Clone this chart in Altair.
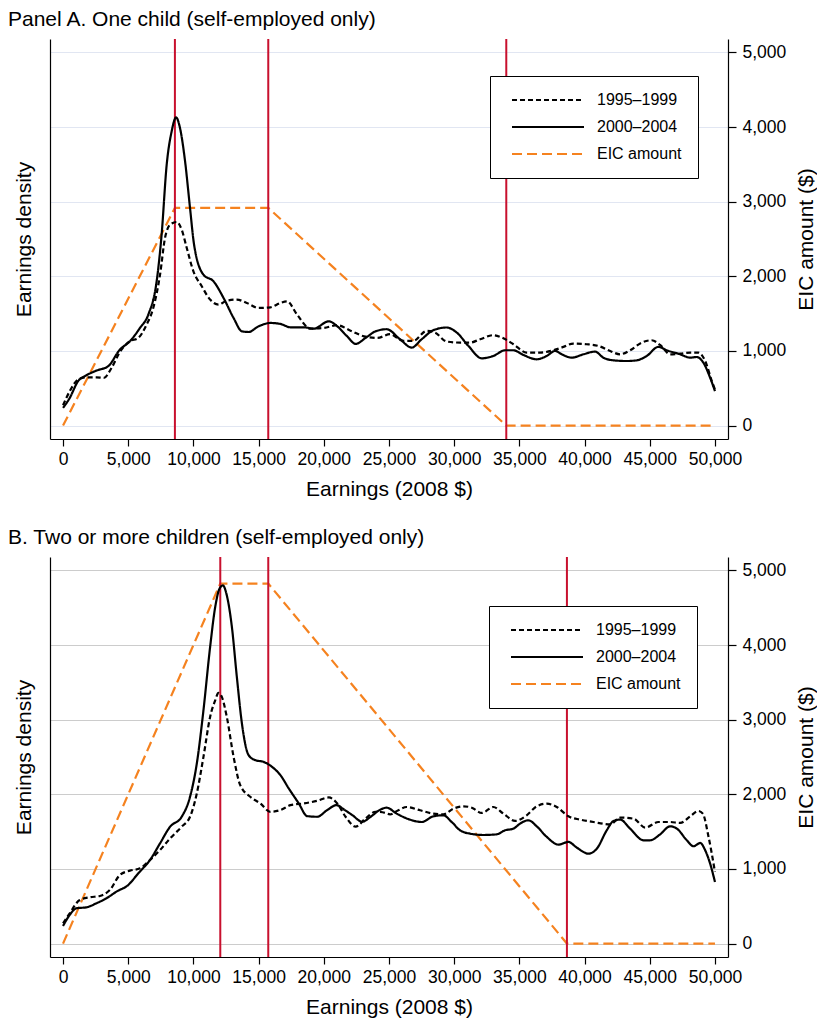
import altair as alt
import pandas as pd

FONT = "Liberation Sans"
SERIES = ["1995–1999", "2000–2004", "EIC amount"]
X_TICKS = [0, 5000, 10000, 15000, 20000, 25000, 30000, 35000, 40000, 45000, 50000]
Y_TICKS = [0, 1000, 2000, 3000, 4000, 5000]

# ---------- Panel A: one child ----------
a_old_x = [0, 513, 1150, 1795, 2564, 3130, 3720, 4360, 5130, 5770, 6410, 6920, 7440, 7820, 8210, 8720,
           9100, 9490, 10000, 10640, 11280, 11920, 12560, 13330, 14100, 15000, 15900, 16670, 17180, 17950,
           18970, 20000, 21030, 22050, 23080, 24100, 25080, 26100, 26870, 27890, 28530, 29420, 30450,
           31220, 31990, 33000, 33770, 34540, 35560, 36580, 37610, 38380, 39140, 40160, 41060, 41960,
           42720, 43490, 44390, 45150, 45790, 46560, 47330, 48100, 48730, 49250, 49760, 50000]
a_old_y = [272, 460, 616, 647, 647, 638, 772, 987, 1130, 1174, 1353, 1576, 2022, 2513, 2692, 2728,
           2625, 2379, 2067, 1866, 1688, 1621, 1674, 1688, 1643, 1576, 1585, 1643, 1665, 1487,
           1299, 1308, 1344, 1272, 1196, 1174, 1224, 1135, 1135, 1269, 1247, 1126, 1112,
           1112, 1157, 1211, 1170, 1090, 978, 978, 1009, 1054, 1099, 1090, 1067, 1000,
           955, 1009, 1112, 1143, 1081, 955, 964, 978, 978, 865, 596, 484]
a_new_x = [0, 513, 1150, 1795, 2564, 3460, 4360, 5130, 5900, 6540, 7180, 7560, 7950, 8330, 8670, 8970,
           9360, 9740, 10050, 10770, 11540, 12310, 13080, 13720, 14230, 15000, 15900, 16670, 17440,
           18460, 19230, 20380, 21030, 21790, 22440, 23200, 23970, 24820, 25840, 26740, 27510, 28400,
           29420, 30190, 31090, 32110, 33000, 33900, 34540, 35310, 36330, 37100, 37740, 38250, 39010,
           39910, 40800, 41440, 42210, 43230, 44000, 44770, 45660, 46300, 47330, 48100, 48600, 49110,
           49630, 50000]
a_new_y = [237, 370, 594, 674, 737, 795, 1018, 1130, 1308, 1487, 1933, 2558, 3496, 3942, 4129, 3987,
           3540, 2915, 2424, 2022, 1933, 1710, 1442, 1263, 1254, 1330, 1375, 1362, 1317,
           1317, 1299, 1397, 1330, 1196, 1094, 1174, 1263, 1291, 1157, 1045, 1157, 1278,
           1314, 1247, 1067, 901, 933, 1009, 1009, 946, 888, 933, 1000, 955, 910,
           955, 991, 910, 874, 865, 874, 933, 1054, 1009, 955, 910, 919, 843,
           641, 462]
a_eic_x = [0, 8580, 15740, 33995, 50000]
a_eic_y = [0, 2917, 2917, 0, 0]
a_kinks = [8580, 15740, 33995]

# ---------- Panel B: two or more children ----------
b_old_x = [0, 513, 1282, 2051, 2820, 3590, 4360, 5130, 5900, 6670, 7440, 8210, 9100, 9740, 10260, 10770,
           11280, 11670, 11920, 12180, 12560, 13080, 13590, 14360, 15130, 15900, 16670, 17440, 18460,
           19490, 20380, 21030, 21670, 22440, 23200, 23970, 24500, 25080, 25720, 26360, 27380, 28400,
           29170, 29940, 30710, 31350, 32110, 33010, 33770, 34670, 35560, 36330, 37100, 37870, 38760,
           39660, 40680, 41960, 42730, 43750, 44650, 45670, 46560, 47330, 48100, 48740, 49070, 49510,
           50000]
b_old_y = [272, 406, 584, 620, 638, 718, 919, 977, 1008, 1120, 1253, 1409, 1566, 1699, 2012, 2502,
           3037, 3260, 3359, 3305, 3037, 2502, 2123, 1967, 1878, 1766, 1789, 1855, 1878,
           1913, 1958, 1878, 1699, 1566, 1677, 1766, 1760, 1732, 1786, 1830, 1786, 1741,
           1732, 1808, 1839, 1821, 1750, 1830, 1741, 1643, 1719, 1839, 1875, 1830, 1705,
           1661, 1629, 1598, 1688, 1674, 1554, 1629, 1629, 1616, 1705, 1777, 1741, 1429,
           960]
b_new_x = [0, 513, 1026, 1795, 2564, 3330, 4100, 5000, 5770, 6670, 7440, 8210, 9100, 9740, 10260, 10770,
           11280, 11670, 12000, 12260, 12560, 12950, 13330, 13720, 14230, 14740, 15380, 16030, 16670,
           17310, 18080, 18720, 19490, 20260, 20970, 21540, 22180, 22950, 23590, 24360, 24820, 25590,
           26610, 27510, 28400, 29170, 29810, 30450, 31220, 32240, 33260, 33900, 34540, 35050, 35690,
           36330, 37100, 37990, 38760, 39400, 40300, 40940, 41700, 42220, 42730, 43490, 44520, 45030,
           45800, 46560, 47080, 47840, 48350, 48870, 49250, 49630, 50000]
b_new_y = [236, 384, 473, 486, 540, 607, 696, 785, 941, 1120, 1343, 1566, 1699, 1967, 2413, 3127,
           3974, 4509, 4755, 4799, 4666, 4242, 3573, 2948, 2525, 2458, 2435, 2368, 2257,
           2079, 1878, 1708, 1699, 1789, 1855, 1797, 1722, 1632, 1699, 1797, 1821, 1741,
           1661, 1629, 1705, 1719, 1629, 1518, 1473, 1455, 1464, 1518, 1540, 1607, 1652,
           1571, 1429, 1326, 1362, 1286, 1205, 1272, 1518, 1643, 1661, 1540, 1384, 1384,
           1464, 1571, 1540, 1384, 1304, 1348, 1250, 1071, 826]
b_eic_x = [0, 12060, 15740, 38646, 50000]
b_eic_y = [0, 4824, 4824, 0, 0]
b_kinks = [12060, 15740, 38646]

X_DOMAIN = [-1000, 51000]
Y_DOMAIN = [-180, 5180]

color_scale = alt.Scale(domain=SERIES, range=["#000000", "#000000", "#f5821f"])
dash_scale = alt.Scale(domain=SERIES, range=[[5, 3], [1, 0], [10, 5]])


def panel(title, old_x, old_y, new_x, new_y, eic_x, eic_y, kinks, grid_color, leg_x, leg_y):
    dens = pd.concat([
        pd.DataFrame({"x": old_x, "y": old_y, "series": SERIES[0]}),
        pd.DataFrame({"x": new_x, "y": new_y, "series": SERIES[1]}),
    ])
    eic = pd.DataFrame({"x": eic_x, "y": eic_y, "series": SERIES[2]})
    kdf = pd.DataFrame({"x": kinks})

    xenc = alt.X("x:Q", scale=alt.Scale(domain=X_DOMAIN, nice=False, zero=False),
                 axis=alt.Axis(values=X_TICKS, format=",.0f", title="Earnings (2008 $)",
                               grid=False, tickSize=7, labelPadding=4, titlePadding=11))
    legend = alt.Legend(orient="none", legendX=leg_x, legendY=leg_y, title=None,
                        strokeColor="black", fillColor="white",
                        padding=16, symbolType="stroke", symbolSize=5184, symbolOffset=5,
                        symbolStrokeWidth=2, clipHeight=16, rowPadding=11,
                        labelFontSize=16, labelFont=FONT, labelOffset=12, labelColor="black")

    grid_layer = alt.Chart(eic).mark_line(strokeWidth=2.2, clip=True).encode(
        x=xenc,
        y=alt.Y("y:Q", scale=alt.Scale(domain=Y_DOMAIN, nice=False, zero=False),
                axis=alt.Axis(orient="right", values=Y_TICKS, format=",.0f", title="EIC amount ($)",
                              grid=True, gridColor=grid_color, gridWidth=1.2, tickSize=8,
                              labelPadding=6, titlePadding=10, titleAngle=270,
                              titleBaseline="top")),
        color=alt.Color("series:N", scale=color_scale, legend=legend),
        strokeDash=alt.StrokeDash("series:N", scale=dash_scale, legend=legend),
        order=alt.value(0),
    )
    dens_layer = alt.Chart(dens).mark_line(strokeWidth=2.2, interpolate="monotone").encode(
        x=alt.X("x:Q"),
        y=alt.Y("y:Q", axis=alt.Axis(orient="left", title="Earnings density", labels=False,
                                     ticks=False, grid=False, titlePadding=16)),
        color=alt.Color("series:N", scale=color_scale, legend=legend),
        strokeDash=alt.StrokeDash("series:N", scale=dash_scale, legend=legend),
        detail="series:N",
    )
    rules = alt.Chart(kdf).mark_rule(color="#c8102e", strokeWidth=2).encode(x="x:Q")

    return alt.layer(grid_layer, rules, dens_layer).resolve_axis(y="independent").properties(
        width=678, height=400,
        title=alt.TitleParams(title, anchor="start", frame="bounds", fontSize=21, font=FONT,
                              fontWeight="normal", color="black", offset=8, dx=-5),
    )


pA = panel("Panel A. One child (self-employed only)", a_old_x, a_old_y, a_new_x, a_new_y,
           a_eic_x, a_eic_y, a_kinks, "#e1e6f2", 440, 37)
pB = panel("B. Two or more children (self-employed only)", b_old_x, b_old_y, b_new_x, b_new_y,
           b_eic_x, b_eic_y, b_kinks, "#cccccc", 439, 49)

chart = alt.vconcat(pA, pB, spacing=27).resolve_scale(
    color="independent", strokeDash="independent"
).resolve_legend(
    color="independent", strokeDash="independent"
).properties(
    padding={"left": 8, "top": 9, "right": 0, "bottom": 0},
    background="white",
).configure_view(stroke=None).configure_axis(
    labelFont=FONT, titleFont=FONT, labelFontSize=17.5, titleFontSize=21,
    labelColor="black", titleColor="black", titleFontWeight="normal",
    domainColor="black", tickColor="black", domainWidth=1.2, tickWidth=1.2,
)

chart.save("out.html", embed_options={"renderer": "svg", "actions": False})
